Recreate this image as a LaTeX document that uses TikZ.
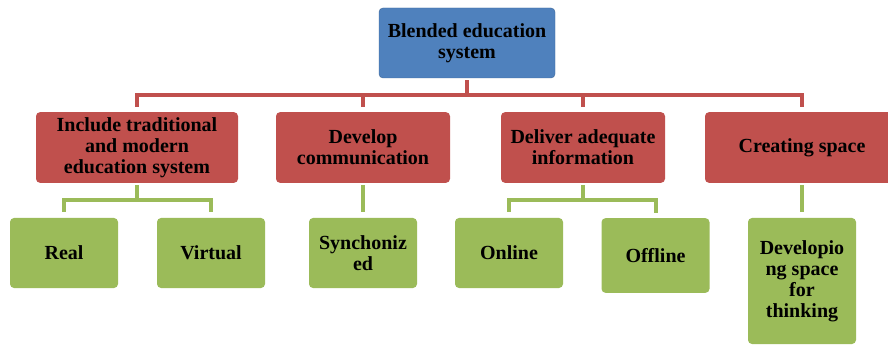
\documentclass[tikz,border=0pt]{standalone}
\usepackage{fontspec}
\setmainfont{Liberation Serif}
\usepackage{tikz}

\definecolor{boxblue}{HTML}{4F81BD}
\definecolor{boxred}{HTML}{C0504D}
\definecolor{boxgreen}{HTML}{9BBB59}

\tikzset{
	box/.style={rounded corners=3pt, inner sep=0pt, align=center,
		font=\fontsize{15}{15.75}\selectfont\bfseries},
	topbox/.style={box, fill=boxblue, draw=boxblue!80!black, line width=0.3pt},
	midbox/.style={box, fill=boxred, minimum height=53pt},
	leafbox/.style={box, fill=boxgreen, minimum width=81pt},
	redline/.style={draw=boxred, line width=3pt, shorten >=4pt, shorten <=1.5pt},
	greenline/.style={draw=boxgreen, line width=3pt, shorten >=4pt, shorten <=1.5pt}
}

\begin{document}
\begin{tikzpicture}[x=0.75pt, y=-0.75pt]
	\clip (0, 0) rectangle (888, 345);
	\node [topbox, minimum width=132pt, minimum height=52.5pt] (top) at (467, 43) {Blended education\\system};
	\node [midbox, minimum width=151.5pt] (inc) at (137, 147.5) {Include traditional\\and modern\\education system};
	\node [midbox, minimum width=130.5pt] (dev) at (363, 147.5) {Develop\\communication};
	\node [midbox, minimum width=123pt] (del) at (583, 147.5) {Deliver adequate\\information};
	\node [midbox, minimum width=145.5pt] (cre) at (802, 147.5) {Creating space};
	\node [leafbox, minimum height=52.5pt] (real) at (64, 253) {Real};
	\node [leafbox, minimum height=52.5pt] (virt) at (211, 253) {Virtual};
	\node [leafbox, minimum height=52.5pt] (sync) at (363, 253) {Synchoniz\\ed};
	\node [leafbox, minimum height=52.5pt] (onl) at (509, 253) {Online};
	\node [leafbox, minimum height=56pt] (offl) at (655.5, 255.5) {Offline};
	\node [leafbox, minimum height=94.5pt] (devsp) at (802, 281) {Developio\\ng space\\for\\thinking};
	\draw [redline] (top.south) -- +(0, 17) -| (inc.north);
	\draw [redline] (top.south) -- +(0, 17) -| (dev.north);
	\draw [redline] (top.south) -- +(0, 17) -| (del.north);
	\draw [redline] (top.south) -- +(0, 17) -| (cre.north);
	\draw [greenline] (inc.south) -- +(0, 17) -| (real.north);
	\draw [greenline] (inc.south) -- +(0, 17) -| (virt.north);
	\draw [greenline] (dev.south) -- (sync.north);
	\draw [greenline] (del.south) -- +(0, 17) -| (onl.north);
	\draw [greenline] (del.south) -- +(0, 17) -| (offl.north);
	\draw [greenline] (cre.south) -- (devsp.north);
\end{tikzpicture}
\end{document}
